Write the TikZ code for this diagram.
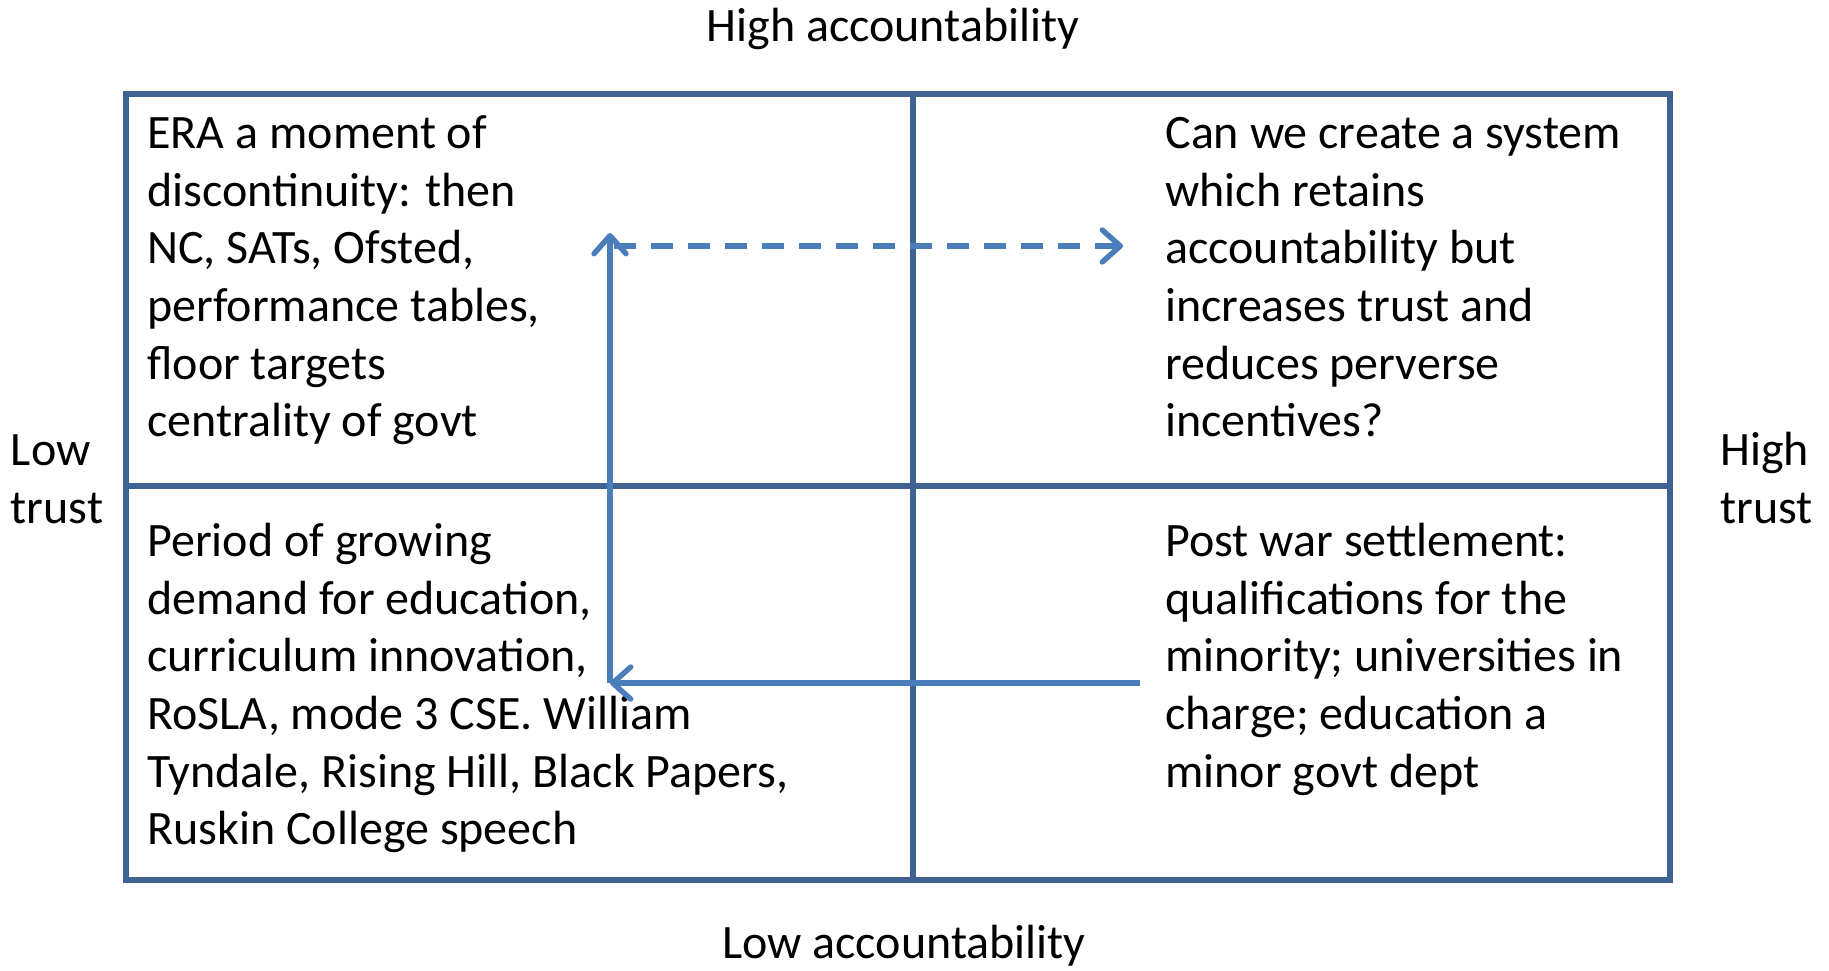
\documentclass[tikz,border=0pt]{standalone}
\usepackage{fontspec}
\setmainfont{Carlito}
\usetikzlibrary{arrows.meta}
\definecolor{qframe}{HTML}{3E6293}
\definecolor{qarrow}{HTML}{4A7EBB}
\tikzset{
  % quadrant lines and the texts that sit in them
  quadframe/.style = {draw=qframe, line width=2.6pt},
  cell/.style      = {anchor=north west, inner sep=0pt, align=left,
                      font=\fontsize{24}{28.85}\selectfont},
  axislbl/.style   = {anchor=base, inner sep=0pt, font=\fontsize{24}{28.85}\selectfont},
  flow/.style      = {-{Straight Barb[length=9pt,width=16pt,round]}, line width=2.7pt, qarrow},
  dflow/.style     = {flow, dash pattern=on 11pt off 7.5pt},
}
\begin{document}
\begin{tikzpicture}[x=0.5pt,y=-0.5pt]
\useasboundingbox (0,0) rectangle (1829,970);
% grid
\draw[quadframe] (126,94) rectangle (1670,880)
                 (913,94) -- (913,880)
                 (126,486) -- (1670,486);
% quadrants
\node[cell] (era) at (147,107.6)
  {\strut ERA a moment of\\discontinuity: then\\NC, SATs, Ofsted,\\performance tables,\\floor targets\\centrality of govt};
\node[cell] (future) at (1165,107.6)
  {\strut Can we create a system\\which retains\\accountability but\\increases trust and\\reduces perverse\\incentives?};
\node[cell] (growth) at (147,515.6)
  {\strut Period of growing\\demand for education,\\curriculum innovation,\\RoSLA, mode 3 CSE. William\\Tyndale, Rising Hill, Black Papers,\\Ruskin College speech};
\node[cell] (postwar) at (1165,515.6)
  {\strut Post war settlement:\\qualifications for the\\minority; universities in\\charge; education a\\minor govt dept};
% axes
\node[axislbl] (hiacc) at (893,41) {High accountability};
\node[axislbl] (loacc) at (904,958) {Low accountability};
\node[cell] (lotrust) at (10.5,424.6) {\strut Low\\trust};
\node[cell] (hitrust) at (1720,424.6) {\strut High\\trust};
% path of change
\coordinate (start) at (1140,683);
\coordinate (bend)  at (610,683);
\coordinate (peak)  at (610,233);
\coordinate (dfrom) at (614,246);
\coordinate (dto)   at (1123,246);
\draw[flow] (start) -- (bend);
\draw[flow] (bend) -- (peak);
\draw[dflow] (dfrom) -- (dto);
\end{tikzpicture}
\end{document}
